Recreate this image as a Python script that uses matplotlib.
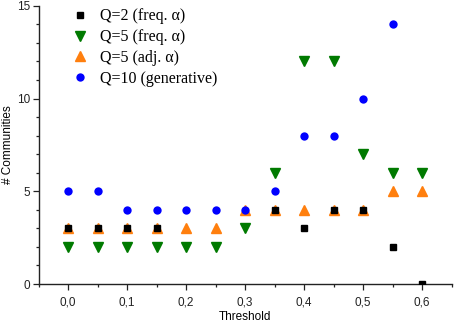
import numpy as np
import matplotlib
matplotlib.use("Agg")
import matplotlib.pyplot as plt
from matplotlib.ticker import MultipleLocator, FuncFormatter

thresholds = [0.0, 0.05, 0.1, 0.15, 0.2, 0.25, 0.3, 0.35, 0.4, 0.45, 0.5, 0.55, 0.6]
q2_freq = [3, 3, 3, 3, np.nan, np.nan, np.nan, 4, 3, 4, 4, 2, 0]
q5_freq = [2, 2, 2, 2, 2, 2, 3, 6, 12, 12, 7, 6, 6]
q5_adj = [3, 3, 3, 3, 3, 3, 4, 4, 4, 4, 4, 5, 5]
q10_gen = [5, 5, 4, 4, 4, 4, 4, 5, 8, 8, 10, 14, np.nan]

labels = ["Q=2 (freq. \u03b1)", "Q=5 (freq. \u03b1)", "Q=5 (adj. \u03b1)", "Q=10 (generative)"]

plt.rcParams['font.family'] = ['Liberation Sans', 'DejaVu Sans']

fig = plt.figure(figsize=(4.54, 3.22), dpi=100)
ax = fig.add_axes([0.085, 0.118, 0.91, 0.864])

ax.plot(thresholds, q2_freq, 's', color='black', ms=5.0, zorder=4, label=labels[0])
ax.plot(thresholds, q5_freq, 'v', color='#007a00', ms=7, zorder=3, label=labels[1])
ax.plot(thresholds, q5_adj, '^', color='#ff7f0e', ms=7, zorder=2, label=labels[2])
ax.plot(thresholds, q10_gen, 'o', color='#0000ff', ms=6, mew=0, zorder=5, label=labels[3])

ax.set_xlim(-0.05, 0.65)
ax.set_ylim(0, 15)
ax.xaxis.set_major_locator(MultipleLocator(0.1))
ax.xaxis.set_minor_locator(MultipleLocator(0.05))
ax.yaxis.set_major_locator(MultipleLocator(5))
ax.yaxis.set_minor_locator(MultipleLocator(1))
ax.xaxis.set_major_formatter(FuncFormatter(lambda v, p: f"{v:.1f}".replace('.', ',')))
ax.yaxis.set_major_formatter(FuncFormatter(lambda v, p: f"{v:.0f}"))

for s in ['top', 'right']:
    ax.spines[s].set_visible(False)
for s in ['left', 'bottom']:
    ax.spines[s].set_linewidth(1.0)
    ax.spines[s].set_color('#222222')
ax.tick_params(which='major', length=4, width=0.9, labelsize=8.5, colors='#222222', pad=2)
ax.tick_params(which='minor', length=2.5, width=0.9, colors='#222222')
ax.tick_params(axis='x', pad=5)

ax.set_xlabel("Threshold", fontsize=8.5, labelpad=2)
ax.set_ylabel("# Communities", fontsize=8.5, labelpad=2)

ax.legend(loc='upper left', bbox_to_anchor=(0.055, 1.025), frameon=False,
          prop={'family': 'Liberation Serif', 'size': 11.5}, handletextpad=0.6,
          labelspacing=0.3, borderaxespad=0.2, handlelength=1.2)

fig.savefig("out.png", dpi=100)
